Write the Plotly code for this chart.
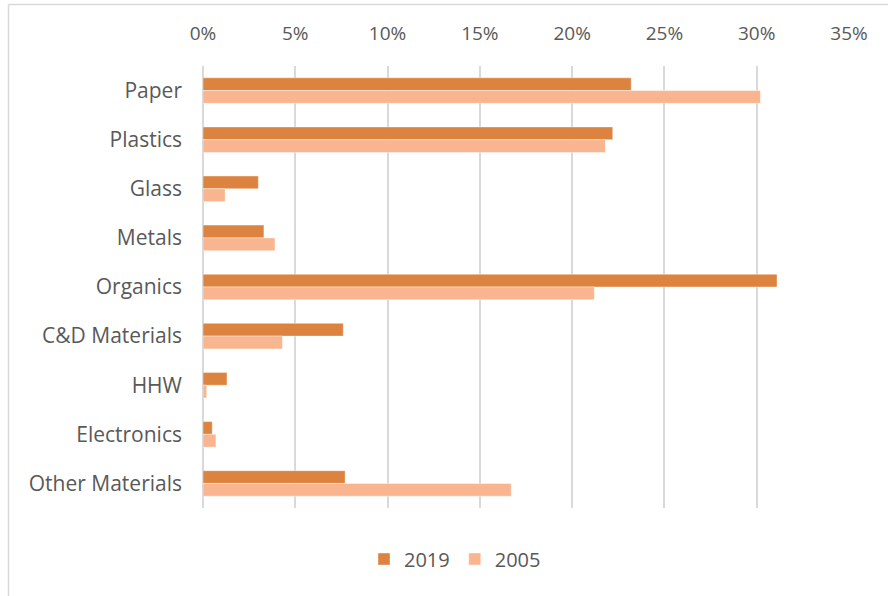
import plotly.graph_objects as go

# Share of waste stream by material, two survey years
categories = ["Paper", "Plastics", "Glass", "Metals", "Organics",
              "C&D Materials", "HHW", "Electronics", "Other Materials"]
share_2019 = [23.2, 22.2, 3.0, 3.3, 31.1, 7.6, 1.3, 0.5, 7.7]
share_2005 = [30.2, 21.8, 1.2, 3.9, 21.2, 4.3, 0.2, 0.7, 16.7]
tick_values = [0, 5, 10, 15, 20, 25, 30, 35]
tick_labels = [f"{v}%" for v in tick_values]

color_2019 = "#DC843F"
color_2005 = "#F8B58F"
text_color = "#595959"
grid_color = "#D9D9D9"
font_family = "'Open Sans', Lato, sans-serif"

W, H = 888, 596
ml, mr, mt, mb = 203, 39, 66, 88
pw, ph = W - ml - mr, H - mt - mb

fig = go.Figure()
fig.add_trace(go.Bar(
    y=categories, x=share_2019, name="2019", orientation="h",
    marker=dict(color=color_2019, line=dict(color="rgba(255,255,255,0.5)", width=0.8)),
))
fig.add_trace(go.Bar(
    y=categories, x=share_2005, name="2005", orientation="h",
    marker=dict(color=color_2005, line=dict(color="rgba(255,255,255,0.5)", width=0.8)),
))


def px_x(p):
    return (p - ml) / pw


def px_y(p):
    return (H - mb - p) / ph


# thin chart-area frame along the top and left edges
frame = dict(color=grid_color, width=1.5)
shapes = [
    dict(type="line", xref="paper", yref="paper", layer="below",
         x0=px_x(8.5), x1=px_x(W + 5), y0=px_y(4.5), y1=px_y(4.5), line=frame),
    dict(type="line", xref="paper", yref="paper", layer="below",
         x0=px_x(8.5), x1=px_x(8.5), y0=px_y(4.5), y1=px_y(H + 5), line=frame),
]

fig.update_layout(
    width=W, height=H,
    margin=dict(l=ml, r=mr, t=mt, b=mb),
    paper_bgcolor="white", plot_bgcolor="white",
    barmode="group", bargap=0.48, bargroupgap=0,
    font=dict(family=font_family, size=20, color=text_color),
    shapes=shapes,
    xaxis=dict(
        side="top", range=[0, 35], tickvals=tick_values, ticktext=tick_labels,
        showgrid=True, gridcolor=grid_color, gridwidth=1.5,
        zeroline=True, zerolinecolor=grid_color, zerolinewidth=1.5,
        showline=False, ticks="", ticklabelstandoff=21,
        tickfont=dict(size=19, color=text_color), fixedrange=True,
    ),
    yaxis=dict(
        categoryorder="array", categoryarray=categories, autorange="reversed",
        showgrid=False, zeroline=False, showline=False, ticks="",
        ticklabelstandoff=20, tickfont=dict(size=21, color=text_color),
        fixedrange=True,
    ),
    legend=dict(
        orientation="h", xref="container", yref="container",
        x=455 / W, xanchor="center", y=1 - 559 / H, yanchor="middle",
        font=dict(size=20, color=text_color), traceorder="normal",
        itemwidth=30,
    ),
    showlegend=True,
)

fig.write_html("out.html")
